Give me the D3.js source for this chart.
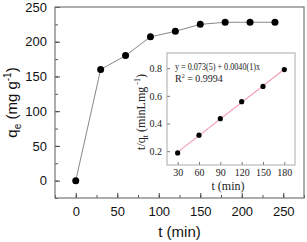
<!DOCTYPE html>
<html>
<head>
<meta charset="utf-8">
<script src="https://cdn.jsdelivr.net/npm/d3@7"></script>
<style>
  body { margin: 0; background: #fff; }
  svg { display: block; }
  .main text { font-family: Arial, "Liberation Sans", sans-serif; }
  .inset text { font-family: "Liberation Serif", "Times New Roman", serif; }
</style>
</head>
<body>
<div id="chart"></div>
<script>
// main kinetics curve
const times = [0, 30, 60, 90, 120, 150, 180, 210, 240];
const qe = [0, 160, 180, 207, 215, 225, 228, 228, 228];
const mainXTicks = [0, 50, 100, 150, 200, 250];
const mainYTicks = [0, 50, 100, 150, 200, 250];

// inset: pseudo-second-order fit
const insetTimes = [30, 60, 90, 120, 150, 180];
const tOverQ = [0.187, 0.316, 0.435, 0.558, 0.668, 0.79];
const fitIntercept = 0.073;
const fitSlope = 0.0040;
const insetXTicks = [30, 60, 90, 120, 150, 180];
const insetYTicks = [0.2, 0.4, 0.6, 0.8];

const W = 307, H = 242;
const svg = d3.select('#chart').append('svg')
  .attr('width', W).attr('height', H);

// =====================
// MAIN PLOT
// =====================
const m = { left: 55, top: 7, right: 304, bottom: 198 };
const main = svg.append('g').attr('class', 'main');

const x = d3.scaleLinear().domain([-25, 275]).range([m.left, m.right]);
const y = d3.scaleLinear().domain([-25, 250]).range([m.bottom, m.top]);

// minor ticks
main.append('g')
  .attr('transform', `translate(0,${m.bottom})`)
  .call(d3.axisTop(x).tickValues(d3.range(-25, 276, 25)).tickSize(3).tickFormat(''))
  .call(g => g.select('.domain').remove())
  .call(g => g.selectAll('line').attr('stroke', '#555'));
main.append('g')
  .attr('transform', `translate(${m.left},0)`)
  .call(d3.axisRight(y).tickValues(d3.range(-25, 251, 25)).tickSize(3).tickFormat(''))
  .call(g => g.select('.domain').remove())
  .call(g => g.selectAll('line').attr('stroke', '#555'));

// major ticks + labels
main.append('g')
  .attr('transform', `translate(0,${m.bottom})`)
  .call(d3.axisBottom(x).tickValues(mainXTicks).tickSize(-5).tickPadding(9))
  .call(g => g.select('.domain').remove())
  .call(g => g.selectAll('line').attr('stroke', '#444'))
  .call(g => g.selectAll('text').attr('font-size', 13).attr('fill', '#111'));
main.append('g')
  .attr('transform', `translate(${m.left},0)`)
  .call(d3.axisLeft(y).tickValues(mainYTicks).tickSize(-5).tickPadding(8))
  .call(g => g.select('.domain').remove())
  .call(g => g.selectAll('line').attr('stroke', '#444'))
  .call(g => g.selectAll('text').attr('font-size', 13).attr('fill', '#111'));

main.append('rect')
  .attr('x', m.left).attr('y', m.top)
  .attr('width', m.right - m.left).attr('height', m.bottom - m.top)
  .attr('fill', 'none').attr('stroke', '#777').attr('stroke-width', 1.2);

const mainData = times.map((t, i) => ({ t, q: qe[i] }));
main.append('path')
  .datum(mainData)
  .attr('fill', 'none').attr('stroke', '#888').attr('stroke-width', 1)
  .attr('d', d3.line().x(d => x(d.t)).y(d => y(d.q)));
main.selectAll('.pt')
  .data(mainData)
  .enter()
  .append('circle')
  .attr('cx', d => x(d.t)).attr('cy', d => y(d.q))
  .attr('r', 3.5).attr('fill', '#000');

main.append('text')
  .attr('x', (m.left + m.right) / 2).attr('y', 237)
  .attr('text-anchor', 'middle').attr('font-size', 15).attr('fill', '#111')
  .text('t (min)');

const yl = main.append('text')
  .attr('transform', `translate(17,${(m.top + m.bottom) / 2}) rotate(-90)`)
  .attr('text-anchor', 'middle').attr('font-size', 15).attr('fill', '#111');
yl.append('tspan').text('q');
yl.append('tspan').attr('font-size', 10).attr('dy', 4).text('e');
yl.append('tspan').attr('dy', -4).text(' (mg g');
yl.append('tspan').attr('font-size', 10).attr('dy', -6).text('-1');
yl.append('tspan').attr('dy', 6).text(')');

// =====================
// INSET
// =====================
const n = { left: 167, top: 53, right: 295, bottom: 165 };
const inset = svg.append('g').attr('class', 'inset');

inset.append('rect')
  .attr('x', n.left).attr('y', n.top)
  .attr('width', n.right - n.left).attr('height', n.bottom - n.top)
  .attr('fill', '#fff');

const ix = d3.scaleLinear().domain([15, 195]).range([n.left, n.right]);
const iy = d3.scaleLinear().domain([0.1, 0.91]).range([n.bottom, n.top]);

inset.append('g')
  .attr('transform', `translate(0,${n.bottom})`)
  .call(d3.axisBottom(ix).tickValues(insetXTicks).tickSize(-3).tickPadding(4))
  .call(g => g.select('.domain').remove())
  .call(g => g.selectAll('line').attr('stroke', '#777'))
  .call(g => g.selectAll('text').attr('font-size', 10).attr('fill', '#222'));
inset.append('g')
  .attr('transform', `translate(${n.left},0)`)
  .call(d3.axisLeft(iy).tickValues(insetYTicks).tickSize(-3).tickPadding(5).tickFormat(d3.format('.1f')))
  .call(g => g.select('.domain').remove())
  .call(g => g.selectAll('line').attr('stroke', '#777'))
  .call(g => g.selectAll('text').attr('font-size', 10).attr('fill', '#222'));

inset.append('rect')
  .attr('x', n.left).attr('y', n.top)
  .attr('width', n.right - n.left).attr('height', n.bottom - n.top)
  .attr('fill', 'none').attr('stroke', '#aaa').attr('stroke-width', 1);

const fitX = [insetTimes[0], insetTimes[insetTimes.length - 1]];
inset.append('line')
  .attr('x1', ix(fitX[0])).attr('y1', iy(fitIntercept + fitSlope * fitX[0]))
  .attr('x2', ix(fitX[1])).attr('y2', iy(fitIntercept + fitSlope * fitX[1]))
  .attr('stroke', '#f4a0b4').attr('stroke-width', 1.2);

inset.selectAll('.ipt')
  .data(insetTimes.map((t, i) => ({ t, v: tOverQ[i] })))
  .enter()
  .append('circle')
  .attr('cx', d => ix(d.t)).attr('cy', d => iy(d.v))
  .attr('r', 2.6).attr('fill', '#000');

inset.append('text')
  .attr('x', 175).attr('y', 70).attr('font-size', 10).attr('fill', '#222')
  .attr('textLength', 85).attr('lengthAdjust', 'spacingAndGlyphs')
  .text('y = 0.073(5) + 0.0040(1)x');
const r2 = inset.append('text')
  .attr('x', 175).attr('y', 82).attr('font-size', 10).attr('fill', '#222');
r2.append('tspan').text('R');
r2.append('tspan').attr('font-size', 6).attr('dy', -4).text('2');
r2.append('tspan').attr('dy', 4).text(' = 0.9994');

inset.append('text')
  .attr('x', 228).attr('y', 190)
  .attr('text-anchor', 'middle').attr('font-size', 12).attr('fill', '#222')
  .text('t (min)');

const iyl = inset.append('text')
  .attr('transform', `translate(145,112) rotate(-90)`)
  .attr('text-anchor', 'middle').attr('font-size', 12).attr('fill', '#222');
iyl.append('tspan').text('t/q');
iyl.append('tspan').attr('font-size', 8).attr('dy', 3).text('t');
iyl.append('tspan').attr('dy', -3).text(' (minLmg');
iyl.append('tspan').attr('font-size', 8).attr('dy', -5).text(' -1');
iyl.append('tspan').attr('dy', 5).text(')');
</script>
</body>
</html>
